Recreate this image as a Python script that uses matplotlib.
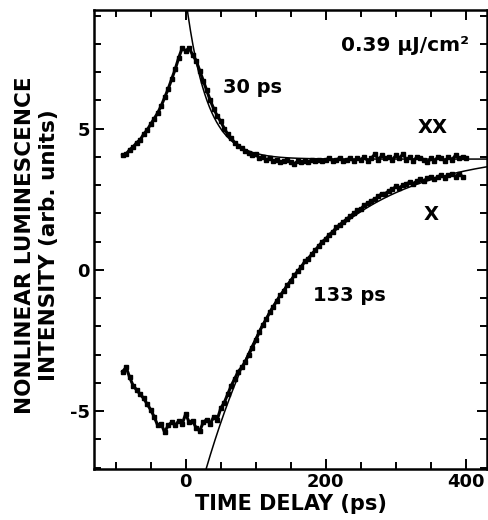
import numpy as np
import matplotlib
matplotlib.use("Agg")
import matplotlib.pyplot as plt
from matplotlib.ticker import MultipleLocator

plt.rcParams["font.family"] = ["DejaVu Sans"]
plt.rcParams["font.weight"] = "bold"
plt.rcParams["axes.unicode_minus"] = False

# time delay grid (ps) shared by both measured traces
delay_xx = np.arange(-90, 401, 5)
delay_x = np.arange(-90, 396, 5)

# biexciton (XX) trace
signal_xx = [
    4.05, 4.1, 4.25, 4.35, 4.5, 4.6, 4.8, 4.95, 5.15, 5.35,
    5.55, 5.8, 6.1, 6.4, 6.75, 7.1, 7.5, 7.85, 7.75, 7.85,
    7.6, 7.4, 7.05, 6.7, 6.35, 6.0, 5.7, 5.45, 5.25, 5.0,
    4.8, 4.65, 4.5, 4.4, 4.3, 4.2, 4.15, 4.05, 4.1, 3.95,
    4.0, 3.9, 3.95, 3.85, 3.9, 3.8, 3.85, 3.9, 3.8, 3.75,
    3.85, 3.8, 3.85, 3.8, 3.9, 3.85, 3.9, 3.85, 3.9, 3.95,
    3.85, 3.9, 3.95, 3.85, 3.9, 3.95, 3.85, 3.95, 3.9, 4.0,
    3.85, 3.95, 4.1, 3.9, 4.05, 3.95, 4.0, 3.9, 4.05, 3.95,
    4.1, 3.9, 4.0, 3.85, 4.0, 3.95, 3.9, 3.8, 3.95, 3.85,
    4.0, 3.95, 3.85, 4.0, 3.9, 4.05, 3.95, 4.0, 3.95,
]

# exciton (X) trace
signal_x = [
    -3.6, -3.45, -3.8, -4.1, -4.25, -4.4, -4.55, -4.75, -4.95, -5.2,
    -5.5, -5.45, -5.75, -5.5, -5.4, -5.5, -5.35, -5.45, -5.1, -5.4,
    -5.35, -5.6, -5.7, -5.4, -5.3, -5.45, -5.2, -5.3, -4.9, -4.7,
    -4.4, -4.1, -3.85, -3.6, -3.45, -3.25, -3.0, -2.75, -2.5, -2.2,
    -1.95, -1.75, -1.5, -1.3, -1.1, -0.9, -0.75, -0.55, -0.4, -0.2,
    -0.05, 0.1, 0.3, 0.4, 0.55, 0.7, 0.85, 1.0, 1.1, 1.25,
    1.35, 1.5, 1.6, 1.7, 1.8, 1.9, 2.0, 2.1, 2.15, 2.3,
    2.35, 2.45, 2.5, 2.6, 2.7, 2.7, 2.8, 2.85, 2.95, 2.9,
    3.0, 3.05, 3.1, 3.05, 3.15, 3.2, 3.15, 3.25, 3.3, 3.2,
    3.3, 3.35, 3.25, 3.35, 3.4, 3.3, 3.4, 3.3,
]

# single-exponential fits (time constants from the annotations)
tau_xx, base_xx, amp_xx = 30.0, 3.92, 5.7
tau_x, base_x, amp_x = 133.0, 4.2, 14.0

fig = plt.figure(figsize=(4.89, 5.20), dpi=100)
ax = fig.add_axes([0.192, 0.098, 0.804, 0.883])

ax.plot(delay_xx, signal_xx, color="black", lw=2.2, marker="s", ms=3)
ax.plot(delay_x, signal_x, color="black", lw=2.2, marker="s", ms=3)

fit_t_xx = np.linspace(-10, 440, 400)
ax.plot(fit_t_xx, base_xx + amp_xx * np.exp(-fit_t_xx / tau_xx), color="black", lw=1.1)
fit_t_x = np.linspace(0, 440, 400)
ax.plot(fit_t_x, base_x - amp_x * np.exp(-fit_t_x / tau_x), color="black", lw=1.1)

ax.set_xlim(-131, 430)
ax.set_ylim(-7.05, 9.2)

ax.xaxis.set_major_locator(MultipleLocator(200))
ax.xaxis.set_minor_locator(MultipleLocator(50))
ax.yaxis.set_major_locator(MultipleLocator(5))
ax.yaxis.set_minor_locator(MultipleLocator(1))
ax.tick_params(which="both", direction="in", top=True, right=True, width=1.4)
ax.tick_params(which="major", length=7, labelsize=13, pad=3)
ax.tick_params(which="minor", length=5)
for spine in ax.spines.values():
    spine.set_linewidth(1.8)

ax.set_xlabel("TIME DELAY (ps)", fontsize=15, fontweight="bold", labelpad=2)
ax.set_ylabel("NONLINEAR LUMINESCENCE\nINTENSITY (arb. units)", fontsize=15.5,
              fontweight="bold", linespacing=1.25)
ax.yaxis.set_label_coords(-0.09, 0.488)

ax.text(96, 6.46, "30 ps", fontsize=14, fontweight="bold", ha="center", va="center")
ax.text(233, -0.9, "133 ps", fontsize=14, fontweight="bold", ha="center", va="center")
ax.text(353, 5.04, "XX", fontsize=14, fontweight="bold", ha="center", va="center")
ax.text(350, 1.96, "X", fontsize=14, fontweight="bold", ha="center", va="center")
ax.text(404, 7.95, "0.39 µJ/cm²", fontsize=14.5, fontweight="bold", ha="right", va="center")

fig.savefig("out.png", dpi=100)
